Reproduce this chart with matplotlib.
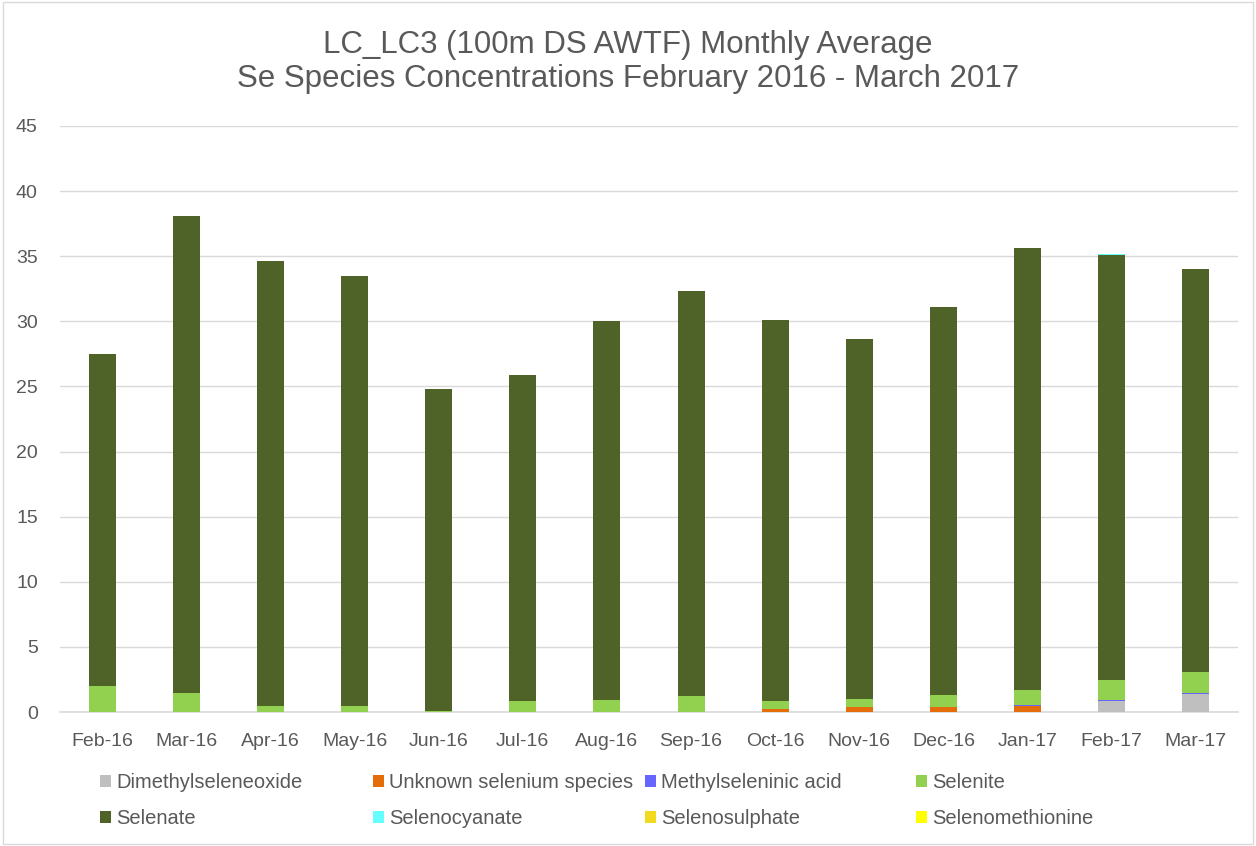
import numpy as np
import matplotlib
matplotlib.use("Agg")
import matplotlib.pyplot as plt
from matplotlib.patches import Patch

plt.rcParams["font.family"] = ["Liberation Sans", "DejaVu Sans"]

months = ["Feb-16", "Mar-16", "Apr-16", "May-16", "Jun-16", "Jul-16", "Aug-16",
          "Sep-16", "Oct-16", "Nov-16", "Dec-16", "Jan-17", "Feb-17", "Mar-17"]

dimethylseleneoxide = [0, 0, 0, 0, 0, 0, 0, 0, 0, 0, 0, 0, 0.85, 1.35]
unknown_species = [0, 0, 0, 0, 0, 0, 0, 0, 0.22, 0.35, 0.4, 0.48, 0, 0]
methylseleninic = [0, 0, 0, 0, 0, 0, 0, 0, 0, 0, 0, 0.03, 0.1, 0.12]
selenite = [2.0, 1.45, 0.45, 0.45, 0.1, 0.85, 0.95, 1.2, 0.6, 0.65, 0.9, 1.2, 1.5, 1.63]
selenate = [25.5, 36.65, 34.15, 33.05, 24.7, 25.05, 29.1, 31.1, 29.3, 27.65,
            29.8, 33.9, 32.65, 30.95]
selenocyanate = [0, 0, 0, 0, 0, 0, 0, 0, 0, 0, 0, 0, 0.1, 0]
selenosulphate = [0] * 14
selenomethionine = [0] * 14

series = [
    ("Dimethylseleneoxide", dimethylseleneoxide, "#BFBFBF"),
    ("Unknown selenium species", unknown_species, "#E46C0A"),
    ("Methylseleninic acid", methylseleninic, "#6666FF"),
    ("Selenite", selenite, "#92D050"),
    ("Selenate", selenate, "#4F6228"),
    ("Selenocyanate", selenocyanate, "#66FFFF"),
    ("Selenosulphate", selenosulphate, "#F2DA1E"),
    ("Selenomethionine", selenomethionine, "#FFFF00"),
]

fig = plt.figure(figsize=(12.56, 8.46), dpi=100)
fig.patch.set_facecolor("white")
ax = fig.add_axes([60 / 1256, 1 - 712 / 846, 1178 / 1256, 586 / 846])

x = np.arange(len(months))
bottom = np.zeros(len(months))
for name, vals, color in series:
    vals = np.array(vals, dtype=float)
    ax.bar(x, vals, width=0.32, bottom=bottom, color=color, label=name, zorder=3)
    bottom += vals

ax.set_xlim(-0.5, len(months) - 0.5)
ax.set_ylim(0, 45)
ax.set_yticks(np.arange(0, 46, 5))
ax.set_xticks(x)
ax.set_xticklabels(months)
ax.tick_params(axis="both", length=0, labelsize=14, colors="#595959")
ax.tick_params(axis="x", pad=15)
ax.tick_params(axis="y", pad=16)
ax.grid(axis="y", color="#D9D9D9", linewidth=1, zorder=0)
for s in ["top", "right", "left"]:
    ax.spines[s].set_visible(False)
ax.spines["bottom"].set_color("#D9D9D9")
ax.spines["bottom"].set_linewidth(1.2)

fig.text(0.5, 1 - 45 / 846, "LC_LC3 (100m DS AWTF) Monthly Average",
         ha="center", va="center", fontsize=22.5, color="#595959")
fig.text(0.5, 1 - 79 / 846, "Se Species Concentrations February 2016 - March 2017",
         ha="center", va="center", fontsize=22.5, color="#595959")

# legend: 4 columns, 2 rows, fixed column positions
col_x = [100, 373, 645, 916]
for c in range(4):
    handles = []
    for r in range(2):
        name, _, color = series[r * 4 + c]
        handles.append(Patch(facecolor=color, label=name))
    leg = fig.legend(handles=handles, loc="upper left",
                     bbox_to_anchor=(col_x[c] / 1256, 1 - 773 / 846),
                     frameon=False, fontsize=14.5, handlelength=0.55, handleheight=0.55,
                     handletextpad=0.25, labelspacing=0.85, borderaxespad=0,
                     borderpad=0)
    for t in leg.get_texts():
        t.set_color("#595959")

# chart border
fig.add_artist(plt.Rectangle((3 / 1256, 0.002), 1 - 6 / 1256, 0.996,
                             transform=fig.transFigure, fill=False,
                             edgecolor="#D9D9D9", linewidth=1))

fig.savefig("out.png", dpi=100, facecolor="white")
